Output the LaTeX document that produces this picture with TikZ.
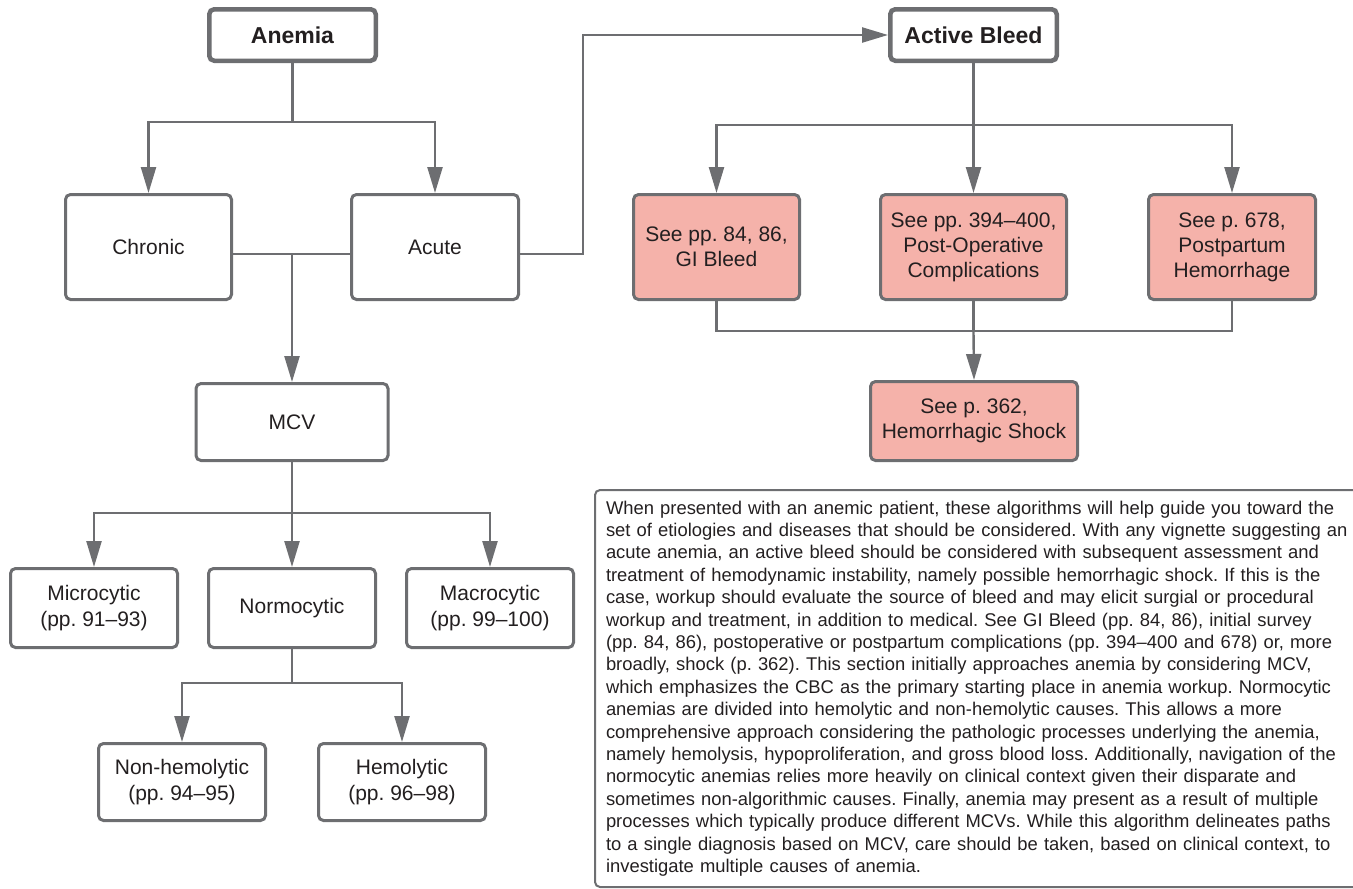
\documentclass[tikz,border=0pt]{standalone}
\usepackage{fontspec}
\setmainfont{Liberation Sans}
\usetikzlibrary{arrows.meta}
\definecolor{linegray}{HTML}{6D6E71}
\definecolor{salmon}{HTML}{F5B2AA}
\definecolor{ink}{HTML}{231F20}
\frenchspacing
\tikzset{
  box/.style={draw=linegray, line width=3pt, rounded corners=5pt, fill=white,
    text=ink, font=\fontsize{21}{26}\selectfont, align=center, inner sep=0pt},
  titlebox/.style={box, line width=4.5pt, font=\fontsize{23}{28}\selectfont\bfseries},
  refbox/.style={box, fill=salmon, font=\fontsize{21}{25}\selectfont},
  link/.style={draw=linegray, line width=2.4pt},
  arr/.style={link, -{Triangle[length=26pt,width=15pt]}},
  notebox/.style={draw=linegray, line width=2pt, rounded corners=5pt, text=ink,
    font=\fontsize{18.4}{22.4}\selectfont, align=left, text width=745pt,
    inner xsep=11pt, inner ysep=0pt, minimum width=757pt, minimum height=397pt}
}
\begin{document}
\begin{tikzpicture}[x=1pt,y=-1pt]
\useasboundingbox (0,0) rectangle (1353,889);

% top level
\node[titlebox, minimum width=166.5pt, minimum height=51.5pt] (anemia) at (292.5,35) {Anemia};
\node[titlebox, minimum width=166.5pt, minimum height=51.5pt] (bleed) at (973.5,35) {Active Bleed};

% second row
\node[box, minimum width=166pt, minimum height=105pt] (chronic) at (148.5,247) {Chronic};
\node[box, minimum width=167pt, minimum height=105pt] (acute) at (435,247) {Acute};
\node[refbox, minimum width=166pt, minimum height=105pt] (gi) at (716.5,247) {See pp. 84, 86,\\GI Bleed};
\node[refbox, minimum width=186pt, minimum height=105pt] (postop) at (973.5,247) {See pp. 394--400,\\Post-Operative\\Complications};
\node[refbox, minimum width=167pt, minimum height=105pt] (pp) at (1232,247) {See p. 678,\\Postpartum\\Hemorrhage};

% shock
\node[refbox, minimum width=207pt, minimum height=79pt] (shock) at (974,421) {See p. 362,\\Hemorrhagic Shock};

% MCV branch
\node[box, minimum width=192pt, minimum height=77pt] (mcv) at (292,422) {MCV};
\node[box, minimum width=167pt, minimum height=79pt] (micro) at (94,608) {Microcytic\\(pp. 91--93)};
\node[box, minimum width=167pt, minimum height=79pt] (normo) at (292,608) {Normocytic};
\node[box, minimum width=167pt, minimum height=79pt] (macro) at (490,608) {Macrocytic\\(pp. 99--100)};
\node[box, minimum width=167pt, minimum height=77pt] (nonhem) at (182,782) {Non-hemolytic\\(pp. 94--95)};
\node[box, minimum width=167pt, minimum height=77pt] (hem) at (402,782) {Hemolytic\\(pp. 96--98)};

% junction points
\coordinate (j1) at (292.5,122);
\coordinate (ca) at (292,254);
\coordinate (bend) at (583,254);
\coordinate (j2) at (973.5,125);
\coordinate (j3) at (973.5,331);
\coordinate (j4) at (292,513);
\coordinate (j5) at (292,683);

% Anemia to chronic / acute
\draw[link] (anemia.south) -- (j1);
\draw[arr] (j1) -| (chronic.north);
\draw[arr] (j1) -| (acute.north);

% chronic and acute both lead to MCV
\draw[link] (chronic.east |- ca) -- (acute.west |- ca);
\draw[arr] (ca) -- (ca |- mcv.north);

% acute to active bleed
\draw[arr] (acute.east |- ca) -- (bend) |- (bleed.west);

% active bleed to the three sources
\draw[link] (bleed.south) -- (j2);
\draw[arr] (j2) -| (gi.north);
\draw[arr] (j2) -- (postop.north);
\draw[arr] (j2) -| (pp.north);

% sources join into shock
\draw[link] (gi.south) |- (j3) -| (pp.south);
\draw[link] (postop.south) -- (j3);
\draw[arr] (j3) -- (shock.north);

% MCV split
\draw[link] (mcv.south) -- (j4);
\draw[arr] (j4) -| (micro.north);
\draw[arr] (j4) -- (normo.north);
\draw[arr] (j4) -| (macro.north);

% normocytic split
\draw[link] (normo.south) -- (j5);
\draw[arr] (j5) -| (nonhem.north);
\draw[arr] (j5) -| (hem.north);

% explanatory note
\node[notebox, anchor=north west] (note) at (594,489) {%
When presented with an anemic patient, these algorithms will help guide you toward the\\
set of etiologies and diseases that should be considered. With any vignette suggesting an\\
acute anemia, an active bleed should be considered with subsequent assessment and\\
treatment of hemodynamic instability, namely possible hemorrhagic shock. If this is the\\
case, workup should evaluate the source of bleed and may elicit surgial or procedural\\
workup and treatment, in addition to medical. See GI Bleed (pp. 84, 86), initial survey\\
(pp. 84, 86), postoperative or postpartum complications (pp. 394--400 and 678) or, more\\
broadly, shock (p. 362). This section initially approaches anemia by considering MCV,\\
which emphasizes the CBC as the primary starting place in anemia workup. Normocytic\\
anemias are divided into hemolytic and non-hemolytic causes. This allows a more\\
comprehensive approach considering the pathologic processes underlying the anemia,\\
namely hemolysis, hypoproliferation, and gross blood loss. Additionally, navigation of the\\
normocytic anemias relies more heavily on clinical context given their disparate and\\
sometimes non-algorithmic causes. Finally, anemia may present as a result of multiple\\
processes which typically produce different MCVs. While this algorithm delineates paths\\
to a single diagnosis based on MCV, care should be taken, based on clinical context, to\\
investigate multiple causes of anemia.};
\end{tikzpicture}
\end{document}
